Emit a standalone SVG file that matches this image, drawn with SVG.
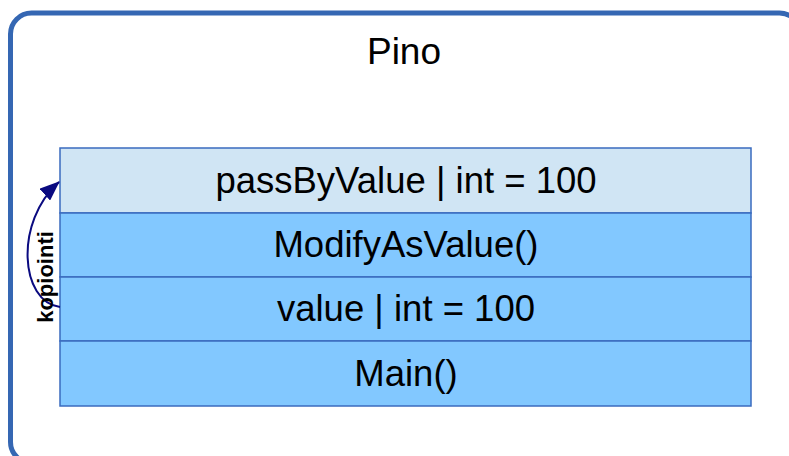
<svg xmlns="http://www.w3.org/2000/svg" width="789" height="456" viewBox="0 0 789 456">
<style>
.frame{fill:#ffffff;stroke:#3567b3;stroke-width:5}
.cell{stroke:#3a6bbf;stroke-width:1.5}
.top{fill:#d0e5f4}
.low{fill:#82c8ff}
.lbl{font-family:"Liberation Sans",Arial,sans-serif;font-size:36.5px;fill:#000;text-anchor:middle}
.title{font-family:"Liberation Sans",Arial,sans-serif;font-size:37px;fill:#000;text-anchor:middle}
.edge{fill:none;stroke:#0a0a80;stroke-width:2}
.elbl{font-family:"Liberation Sans",Arial,sans-serif;font-size:22px;font-weight:bold;fill:#000;text-anchor:middle}
</style>
<defs>
<marker id="ah2" viewBox="0 0 20 16" refX="19" refY="8" markerWidth="20" markerHeight="16" markerUnits="userSpaceOnUse" orient="auto">
<path d="M0,0 L20,8 L0,16 z" fill="#0a0a80"/>
</marker>
</defs>
<g id="frame">
<rect class="frame" x="10.5" y="13" width="790" height="450" rx="21" ry="21"/>
<text class="title" x="404" y="64">Pino</text>
</g>
<g id="passByValue">
<rect class="cell top" x="60" y="148" width="691" height="65"/>
<text class="lbl" x="406" y="193">passByValue | int = 100</text>
</g>
<g id="ModifyAsValue">
<rect class="cell low" x="60" y="213" width="691" height="64"/>
<text class="lbl" x="406" y="257">ModifyAsValue()</text>
</g>
<g id="value">
<rect class="cell low" x="60" y="277" width="691" height="64"/>
<text class="lbl" x="406" y="321">value | int = 100</text>
</g>
<g id="Main">
<rect class="cell low" x="60" y="341" width="691" height="65"/>
<text class="lbl" x="406" y="386">Main()</text>
</g>
<g id="connectors">
<path class="edge" d="M60,307 C20,302 14,222 59,182" marker-end="url(#ah2)"/>
<text class="elbl" transform="translate(53,277) rotate(-90)">kopiointi</text>
</g>
</svg>
